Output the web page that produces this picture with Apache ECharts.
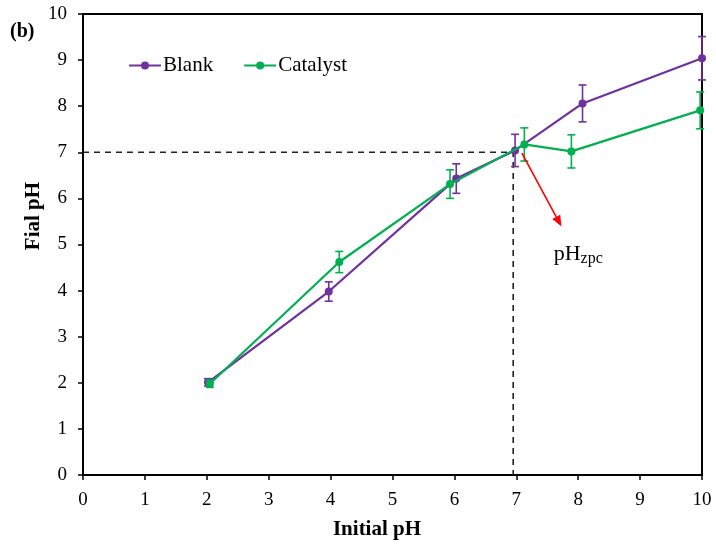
<!DOCTYPE html>
<html>
<head>
<meta charset="utf-8">
<script src="https://cdn.jsdelivr.net/npm/echarts@6/dist/echarts.min.js"></script>
<style>
  html, body { margin: 0; padding: 0; background: #fff; }
  #chart { width: 716px; height: 544px; }
</style>
</head>
<body>
<div id="chart"></div>
<script>
// Initial pH vs final pH, with standard-deviation error bars
const blankX   = [2.02, 3.97, 6.03, 6.98, 8.07, 10.0];
const blankY   = [2.01, 3.98, 6.43, 7.04, 8.06, 9.04];
const blankErr = [0.08, 0.21, 0.32, 0.35, 0.40, 0.47];

const catX   = [2.05, 4.14, 5.93, 7.13, 7.89, 9.97];
const catY   = [1.98, 4.62, 6.31, 7.17, 7.02, 7.91];
const catErr = [0.08, 0.23, 0.31, 0.36, 0.36, 0.40];

// Point of zero charge read-off
const pHzpc = 6.95;
const pHzpcFinal = 7;
const arrowFrom = [7.09, 6.98];
const arrowTo = [7.73, 5.39];
const zpcLabelAt = [8.0, 4.8];

const xTicks = [0, 1, 2, 3, 4, 5, 6, 7, 8, 9, 10];
const yTicks = [0, 1, 2, 3, 4, 5, 6, 7, 8, 9, 10];

const PURPLE = '#7030A0';
const GREEN = '#00B050';
const FONT = '"Liberation Serif", "Times New Roman", serif';

const pairs = (xs, ys) => xs.map((x, i) => [x, ys[i]]);
const triples = (xs, ys, es) => xs.map((x, i) => [x, ys[i], es[i]]);

function errorBars(color) {
  return function (params, api) {
    const x = api.value(0), y = api.value(1), e = api.value(2);
    const top = api.coord([x, y + e]);
    const bot = api.coord([x, y - e]);
    const w = 4;
    const style = { stroke: color, lineWidth: 1.6 };
    return {
      type: 'group',
      children: [
        { type: 'line', shape: { x1: top[0], y1: top[1], x2: bot[0], y2: bot[1] }, style },
        { type: 'line', shape: { x1: top[0] - w, y1: top[1], x2: top[0] + w, y2: top[1] }, style },
        { type: 'line', shape: { x1: bot[0] - w, y1: bot[1], x2: bot[0] + w, y2: bot[1] }, style }
      ]
    };
  };
}

// Red pointer arrow: shaft plus filled head at the end point
function arrowItem(params, api) {
  const a = api.coord([api.value(0), api.value(1)]);
  const b = api.coord([api.value(2), api.value(3)]);
  const dx = b[0] - a[0], dy = b[1] - a[1];
  const len = Math.sqrt(dx * dx + dy * dy);
  const ux = dx / len, uy = dy / len;
  const headLen = 11, headHalf = 4.5;
  const bx = b[0] - ux * headLen, by = b[1] - uy * headLen;
  return {
    type: 'group',
    children: [
      { type: 'line', shape: { x1: a[0], y1: a[1], x2: bx, y2: by },
        style: { stroke: '#FF0000', lineWidth: 1.6 } },
      { type: 'polygon',
        shape: { points: [[b[0], b[1]], [bx - uy * headHalf, by + ux * headHalf], [bx + uy * headHalf, by - ux * headHalf]] },
        style: { fill: '#FF0000' } }
    ]
  };
}

const chart = echarts.init(document.getElementById('chart'), null, { renderer: 'canvas' });

const axisCommon = {
  type: 'value',
  min: 0,
  max: 10,
  interval: 1,
  splitLine: { show: false },
  axisLine: { show: true, onZero: false, lineStyle: { color: '#000', width: 2 } },
  axisTick: { show: true, inside: false, length: 5, lineStyle: { color: '#000', width: 1.5 } },
  axisLabel: { color: '#000', fontFamily: FONT, fontSize: 19 }
};

chart.setOption({
  animation: false,
  backgroundColor: '#fff',
  grid: {
    left: 83, right: 14, top: 14, bottom: 69,
    show: true, borderColor: '#000', borderWidth: 2, backgroundColor: 'transparent'
  },
  graphic: [
    {
      type: 'text', left: 10, top: 22,
      style: { text: '(b)', fill: '#000', font: 'bold 20px ' + FONT }
    },
    {
      type: 'text', x: 377, y: 530,
      style: { text: 'Initial pH', fill: '#000', font: 'bold 21px ' + FONT, align: 'center', verticalAlign: 'middle' }
    },
    {
      type: 'text', x: 34, y: 216, rotation: Math.PI / 2,
      style: { text: 'Fial pH', fill: '#000', font: 'bold 21px ' + FONT, align: 'center', verticalAlign: 'middle' }
    }
  ],
  legend: {
    left: 123, top: 50,
    itemWidth: 32, itemHeight: 10, itemGap: 30,
    textStyle: { color: '#000', fontFamily: FONT, fontSize: 21, padding: [0, 0, 0, -3] },
    data: ['Blank', 'Catalyst']
  },
  xAxis: Object.assign({}, axisCommon, {
    axisLabel: Object.assign({}, axisCommon.axisLabel, {
      margin: 16,
      formatter: v => xTicks.includes(v) ? String(v) : ''
    })
  }),
  yAxis: Object.assign({}, axisCommon, {
    axisLabel: Object.assign({}, axisCommon.axisLabel, {
      margin: 16,
      formatter: v => yTicks.includes(v) ? String(v) : ''
    })
  }),
  series: [
    {
      name: 'ref-lines',
      type: 'line',
      data: [[0, pHzpcFinal], [pHzpc, pHzpcFinal], [pHzpc, 0]],
      symbol: 'none',
      silent: true,
      lineStyle: { color: '#222', width: 1.6, type: [6, 5] },
      z: 1
    },
    {
      name: 'Blank',
      type: 'line',
      data: pairs(blankX, blankY),
      color: PURPLE,
      symbol: 'circle', symbolSize: 8,
      lineStyle: { color: PURPLE, width: 2.2 },
      itemStyle: { color: PURPLE },
      z: 3
    },
    {
      name: 'Catalyst',
      type: 'line',
      data: pairs(catX, catY),
      color: GREEN,
      symbol: 'circle', symbolSize: 8,
      lineStyle: { color: GREEN, width: 2.2 },
      itemStyle: { color: GREEN },
      z: 4
    },
    {
      name: 'Blank-err',
      type: 'custom',
      renderItem: errorBars(PURPLE),
      data: triples(blankX, blankY, blankErr),
      encode: { x: 0, y: 1 },
      z: 3
    },
    {
      name: 'Catalyst-err',
      type: 'custom',
      renderItem: errorBars(GREEN),
      data: triples(catX, catY, catErr),
      encode: { x: 0, y: 1 },
      z: 4
    },
    {
      name: 'zpc-arrow',
      type: 'custom',
      renderItem: arrowItem,
      data: [[arrowFrom[0], arrowFrom[1], arrowTo[0], arrowTo[1]]],
      encode: { x: [0, 2], y: [1, 3] },
      silent: true,
      z: 5
    },
    {
      name: 'zpc-label',
      type: 'scatter',
      data: [zpcLabelAt],
      symbolSize: 1,
      silent: true,
      itemStyle: { opacity: 0 },
      label: {
        show: true,
        position: 'inside',
        opacity: 1,
        formatter: '{a|pH}{b|zpc}',
        rich: {
          a: { fontFamily: FONT, fontSize: 22, color: '#000' },
          b: { fontFamily: FONT, fontSize: 16, color: '#000', verticalAlign: 'bottom', padding: [10, 0, 0, 0] }
        }
      }
    }
  ]
});
</script>
</body>
</html>
